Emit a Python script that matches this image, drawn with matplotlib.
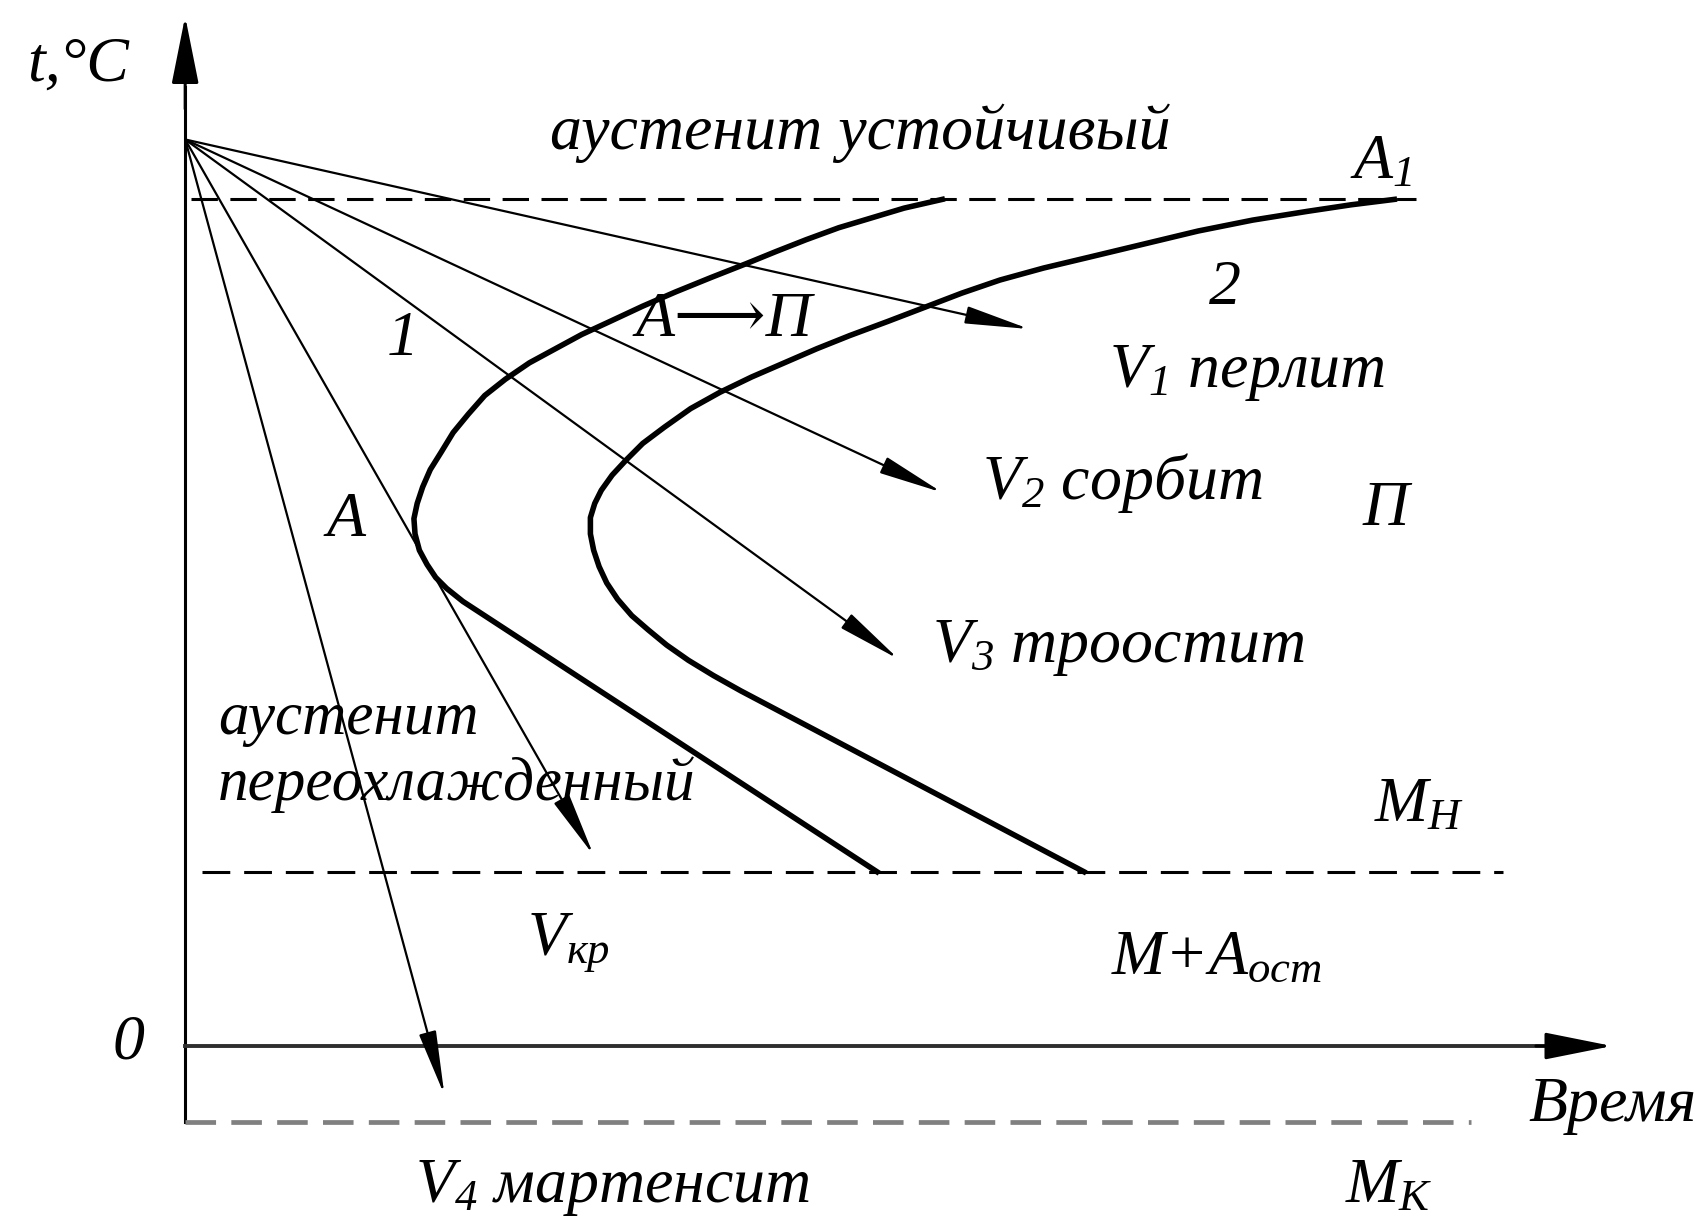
import matplotlib
matplotlib.use("Agg")
import matplotlib.pyplot as plt

plt.rcParams["font.family"] = ["Liberation Serif", "DejaVu Serif", "DejaVu Sans"]
plt.rcParams["font.style"] = "italic"
plt.rcParams["mathtext.fontset"] = "custom"
plt.rcParams["mathtext.it"] = "Liberation Serif:italic"
plt.rcParams["mathtext.rm"] = "Liberation Serif:italic"
plt.rcParams["mathtext.default"] = "it"
plt.rcParams["lines.scale_dashes"] = False

# schematic units: time to the right of the t-axis, temperature above the zero line
T_START = 832      # austenitising temperature (start of every cooling line)
A1 = 777
MN = 160
MK = -70

# cooling lines: end point (time, temperature) of each arrow
cool_names = ["V1", "V2", "V3", "Vkr", "V4"]
cool_time = [775, 695, 655, 375, 238]
cool_temp = [658, 508, 355, 175, -45]

# C-curve 1: start of austenite decomposition
c1_time = [695, 660, 630, 600, 570, 542, 515, 482, 450, 420, 390, 364, 340, 316, 294,
           275, 260, 246, 235, 225, 218, 213, 210, 211, 215, 222, 230, 240, 255, 635]
c1_temp = [A1, 769, 760, 751, 740, 729, 718, 705, 692, 679, 665, 653, 640, 627, 612,
           597, 580, 563, 545, 529, 513, 498, 484, 470, 455, 442, 430, 420, 408, MN]

# C-curve 2: end of austenite decomposition
c2_time = [1110, 1070, 1030, 980, 930, 880, 830, 788, 748, 713, 679, 645, 610, 580, 550,
           520, 491, 464, 440, 420, 405, 392, 382, 376, 372, 372, 375, 380, 387, 397,
           410, 425, 442, 462, 485, 510, 825]
c2_temp = [A1, 772, 766, 758, 748, 736, 724, 714, 703, 691, 678, 665, 652, 640, 627,
           614, 600, 585, 568, 553, 538, 524, 510, 498, 485, 470, 455, 440, 425, 410,
           395, 382, 368, 354, 340, 326, MN]

# labels: text, time, temperature
labels = [
    ("аустенит устойчивый", 620, 838),
    ("$A_1$", 1098, 810),
    ("2", 955, 695),
    ("1", 200, 648),
    ("А⟶П", 495, 665),
    ("А", 148, 482),
    ("$V_1$ перлит", 975, 618),
    ("$V_2$ сорбит", 860, 517),
    ("П", 1102, 492),
    ("$V_3$ троостит", 857, 365),
    ("$M_{Н}$", 1133, 220),
    ("$V_{кр}$", 352, 95),
    ("$M{+}A_{ост}$", 947, 80),
    ("0", -52, 2),
    ("Время", 1310, -55),
    ("$V_4$ мартенсит", 392, -130),
    ("$M_{К}$", 1105, -130),
    ("t,°C", -98, 900),
]
supercooled = ["аустенит", "переохлажденный"]
supercooled_temp = [300, 240]

fig = plt.figure(figsize=(17.08, 12.16), dpi=100)
ax = fig.add_axes([0, 0, 1, 1])
ax.set_xlim(-170, 1398)
ax.set_ylim(-156, 960)
ax.axis("off")

# axes of the diagram
ax.plot([0, 0], [MK, 880], color="black", lw=2.2)
ax.annotate("", xy=(0, 945), xytext=(0, 860),
            arrowprops=dict(arrowstyle="-|>,head_length=2.1,head_width=0.42",
                            mutation_scale=20, color="black", lw=2.2,
                            shrinkA=0, shrinkB=0))
ax.plot([0, 1260], [0, 0], color="#2e2e2e", lw=2.8)
ax.annotate("", xy=(1310, 0), xytext=(1240, 0),
            arrowprops=dict(arrowstyle="-|>,head_length=2.1,head_width=0.42",
                            mutation_scale=20, color="black", lw=2.2,
                            shrinkA=0, shrinkB=0))

# critical temperatures
ln, = ax.plot([5, 1130], [A1, A1], color="black", lw=2.2)
ln.set_dashes((19, 9))
ln, = ax.plot([15, 1210], [MN, MN], color="black", lw=2.2)
ln.set_dashes((20, 10))
ln, = ax.plot([0, 1180], [MK, MK], color="#808080", lw=3.4)
ln.set_dashes((22, 11))

# C-curves
ax.plot(c1_time, c1_temp, color="black", lw=4.0, solid_joinstyle="round")
ax.plot(c2_time, c2_temp, color="black", lw=4.0, solid_joinstyle="round")

# cooling rates
for t, T in zip(cool_time, cool_temp):
    ax.annotate("", xy=(t, T), xytext=(0, T_START),
                arrowprops=dict(arrowstyle="-|>,head_length=2.0,head_width=0.27",
                                mutation_scale=20, color="black", lw=1.6,
                                shrinkA=0, shrinkB=0))

for txt, t, T in labels:
    ax.text(t, T, txt, fontsize=46, ha="center", va="center")
for txt, T in zip(supercooled, supercooled_temp):
    ax.text(30, T, txt, fontsize=44, ha="left", va="center")

fig.savefig("out.png", dpi=100)
